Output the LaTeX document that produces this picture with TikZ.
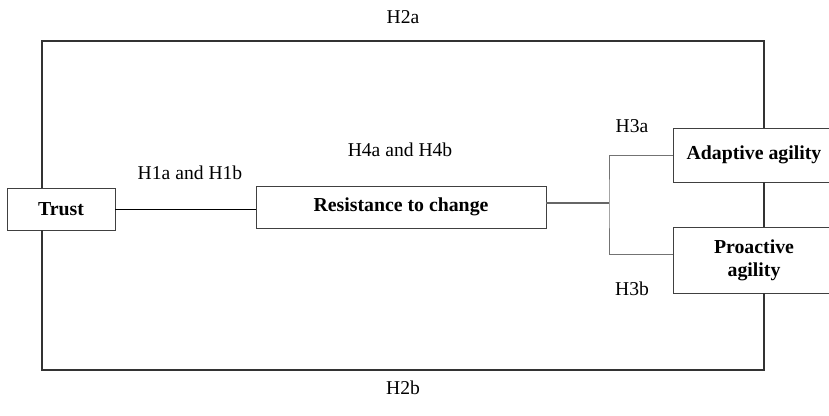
\documentclass[tikz,border=0pt]{standalone}
\usepackage{fontspec}
\setmainfont{Liberation Serif}
\usepackage{tikz}
\usetikzlibrary{positioning}
\tikzstyle{construct} = [rectangle, 
draw=black!75, 
line width=0.8pt, 
fill=white, 
text centered, 
inner sep=0pt, 
font=\fontsize{19.8}{23}\selectfont\bfseries]
\tikzstyle{frame} = [line width=1.3pt, draw=black!80]
\tikzstyle{link} = [line width=0.8pt, draw=black!55]
\tikzstyle{hyp} = [inner sep=0pt, font=\fontsize{19.6}{22}\selectfont]

\begin{document}
\begin{tikzpicture}[x=1pt, y=-1pt]
        \useasboundingbox (0,0) rectangle (829,415);
        \clip (0,0) rectangle (829,415);

        % --- Nodos de los constructos ---
        \node (trust) [construct, minimum width=108pt, minimum height=42pt] at (61,209) {Trust};
        \node (resist) [construct, minimum width=290pt, minimum height=42pt] at (401,207) {Resistance to change};
        \node (adaptive) [construct, minimum width=162pt, minimum height=54pt] at (754,155) {Adaptive agility};
        \node (proactive) [construct, minimum width=162pt, minimum height=66pt, align=center] at (754,260) {Proactive\\agility};

        % Esquinas del marco exterior
        \coordinate (top_left) at (42,41);
        \coordinate (top_right) at (764,41);
        \coordinate (bot_left) at (42,370);
        \coordinate (bot_right) at (764,370);
        \coordinate (branch) at (609,203);

        % --- Conexiones directas ---
        \draw [link, draw=black] (trust.east) -- (trust.east -| resist.west);
        \draw [link, line width=1.6pt, draw=black!60] ([yshift=4pt]resist.east) -- (branch);
        \draw [link] (adaptive.west) -| (branch) |- ([yshift=6pt]proactive.west);

        % --- Marco exterior (H2a arriba, H2b abajo) ---
        \draw [frame] (trust.north -| top_left) -- (top_left) -- (top_right) -- (adaptive.north -| top_right);
        \draw [frame] (adaptive.south -| top_right) -- (proactive.north -| top_right);
        \draw [frame] (trust.south -| bot_left) -- (bot_left) -- (bot_right) -- (proactive.south -| bot_right);

        % --- Etiquetas de hipotesis ---
        \node (h1_label) [hyp] at (190,173) {H1a and H1b};
        \node (h4_label) [hyp] at (400,150) {H4a and H4b};
        \node (h3a_label) [hyp] at (632,126) {H3a};
        \node (h3b_label) [hyp] at (632,289) {H3b};
        \node (h2a_label) [hyp] at (403,17) {H2a};
        \node (h2b_label) [hyp] at (403,388) {H2b};

\end{tikzpicture}
\end{document}
